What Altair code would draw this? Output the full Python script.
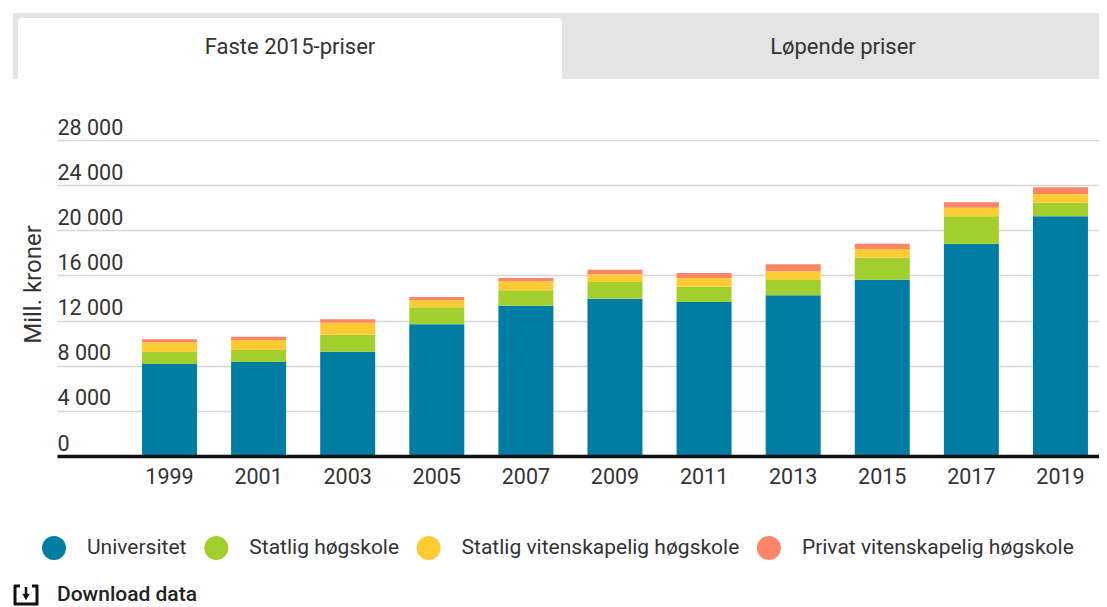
import altair as alt
import pandas as pd

years = ["1999","2001","2003","2005","2007","2009","2011","2013","2015","2017","2019"]
series = ["Universitet","Statlig høgskole","Statlig vitenskapelig høgskole","Privat vitenskapelig høgskole"]
colors = ["#017DA3","#A2CF2E","#FFCB33","#FF8468"]
universitet = [8150,8330,9240,11670,13320,13940,13640,14240,15620,18810,21240]
statlig = [1060,1060,1510,1510,1360,1480,1360,1360,1950,2430,1210]
vitenskapelig = [860,890,1060,620,800,680,770,770,770,760,770]
privat = [270,290,300,290,290,410,440,620,470,480,590]
y_ticks = [0,4000,8000,12000,16000,20000,24000,28000]
tab_labels = ["Faste 2015-priser","Løpende priser"]
download_label = "Download data"
y_title = "Mill. kroner"

FONT = "Roboto"
TXT = "#333333"
ICON = "#111111"

rows = []
for name, vals in zip(series, [universitet, statlig, vitenskapelig, privat]):
    for yr, v in zip(years, vals):
        rows.append({"year": yr, "series": name, "value": v, "order": series.index(name)})
df = pd.DataFrame(rows)

# origin of plot area in page pixels: (57, 140)
def X(px): return alt.value(px - 57)
def Y(px): return alt.value(px - 140)

one = alt.Data(values=[{"k": 1}])

tab_band = alt.Chart(one).mark_rect(color="#E4E4E4").encode(x=X(13), x2=X(1099), y=Y(13), y2=Y(79))
tab_white = alt.Chart(one).mark_rect(color="#FFFFFF", cornerRadiusTopLeft=4, cornerRadiusTopRight=4).encode(
    x=X(18), x2=X(562), y=Y(18), y2=Y(80))
tab1 = alt.Chart(one).mark_text(text=tab_labels[0], font=FONT, fontSize=22, color=TXT, align="center", baseline="middle").encode(x=X(290), y=Y(47))
tab2 = alt.Chart(one).mark_text(text=tab_labels[1], font=FONT, fontSize=22, color=TXT, align="center", baseline="middle").encode(x=X(843), y=Y(47))

bars = alt.Chart(df).mark_bar(width=55).encode(
    x=alt.X("year:N", sort=years, title=None,
            scale=alt.Scale(paddingInner=0.383, paddingOuter=0.539, align=0.885),
            axis=alt.Axis(labelAngle=0, ticks=False, domainColor="#111111", domainWidth=3.5, labelFont=FONT,
                          labelFontSize=21.5, labelColor=TXT, labelPadding=10, zindex=1, grid=False)),
    y=alt.Y("value:Q", title=y_title, stack="zero",
            scale=alt.Scale(domain=[0, 28000], nice=False),
            axis=alt.Axis(values=y_ticks, domain=False, ticks=False, grid=True, gridColor="#D6D6D6", gridWidth=1.5,
                          labelAlign="left", labelBaseline="bottom", labelPadding=0, labelOffset=-1,
                          labelFont=FONT, labelFontSize=21.5, labelColor=TXT,
                          labelExpr="replace(format(datum.value, ','), ',', ' ')",
                          titleFont=FONT, titleFontSize=24, titleFontWeight="normal", titleColor=TXT,
                          titleX=-12, titleY=144, titleAnchor="middle")),
    color=alt.Color("series:N", sort=series, scale=alt.Scale(domain=series, range=colors),
                    legend=alt.Legend(title=None, orient="none", direction="horizontal", legendX=-15, legendY=396,
                                      symbolType="circle", symbolSize=572, symbolStrokeWidth=0, symbolOpacity=1,
                                      labelFont=FONT, labelFontSize=21, labelColor=TXT, labelOffset=21,
                                      labelLimit=500, columnPadding=17.3, gridAlign="none", columns=4, padding=0)),
    order=alt.Order("order:Q"),
)

def vrule(x, y1, y2, w=3):
    return alt.Chart(one).mark_rule(color=ICON, strokeWidth=w).encode(x=X(x), y=Y(y1), y2=Y(y2))
def hrule(x1, x2, y, w=3):
    return alt.Chart(one).mark_rule(color=ICON, strokeWidth=w).encode(x=X(x1), x2=X(x2), y=Y(y))

icon_parts = [
    vrule(15, 585, 605), vrule(37, 585, 605),
    hrule(14, 20, 586), hrule(32, 38, 586),
    hrule(14, 38, 604),
    vrule(26, 587, 596, 2.5),
    alt.Chart(one).mark_point(shape="triangle-down", filled=True, color=ICON, opacity=1, size=55).encode(x=X(26), y=Y(597)),
]
download = alt.Chart(one).mark_text(text=download_label, font=FONT, fontSize=21, fontWeight=500, color="#222222", align="left", baseline="middle").encode(x=X(57), y=Y(595))

chart = alt.layer(tab_band, tab_white, tab1, tab2, bars, *icon_parts, download).resolve_scale(
    x="independent").properties(
    width=1042, height=316,
    padding={"left": 49, "top": 132, "right": 0, "bottom": 151},
    autosize=alt.AutoSizeParams(type="none"),
    background="#FFFFFF",
).configure_view(stroke=None)

chart.save("out.html", embed_options={"renderer": "svg", "actions": False})
